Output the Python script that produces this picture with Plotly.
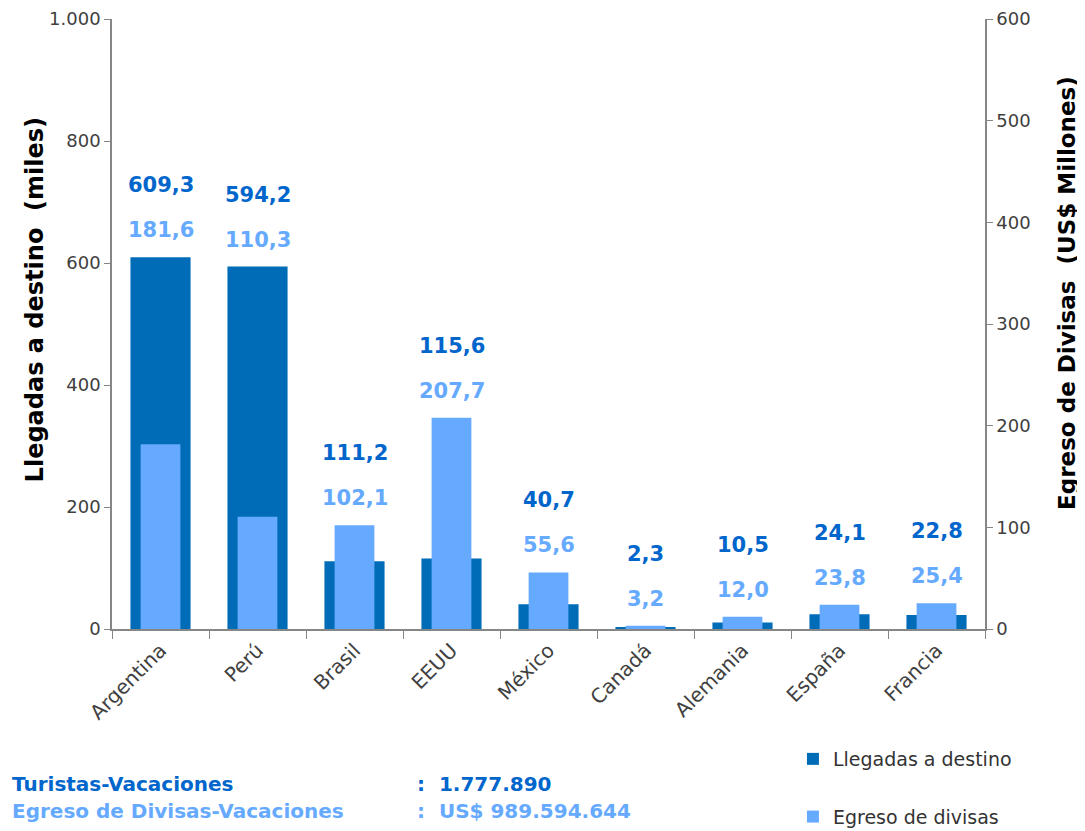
import plotly.graph_objects as go

paises = ["Argentina", "Perú", "Brasil", "EEUU", "México", "Canadá", "Alemania", "España", "Francia"]
llegadas = [609.3, 594.2, 111.2, 115.6, 40.7, 2.3, 10.5, 24.1, 22.8]
egreso = [181.6, 110.3, 102.1, 207.7, 55.6, 3.2, 12.0, 23.8, 25.4]

OSCURO = "#006CB8"
CLARO = "#66AAFF"
FUENTE = "DejaVu Sans"
NB = "\u00a0"

def fmt(v):
    return f"{v:.1f}".replace(".", ",")

fig = go.Figure()
fig.add_trace(go.Bar(
    x=paises, y=llegadas, name="Llegadas a destino",
    marker=dict(color=OSCURO, line=dict(width=0)), width=0.62, yaxis="y",
    legendgroup="a",
))
fig.add_trace(go.Bar(
    x=paises, y=egreso, name="Egreso de divisas",
    marker=dict(color=CLARO, line=dict(width=0)), width=0.41, yaxis="y2",
    legendgroup="b",
))

# etiquetas de datos encima de la barra mas alta
for p, a, b in zip(paises, llegadas, egreso):
    tope = max(a, b * 1000 / 600)
    fig.add_annotation(x=p, y=tope, yref="y", text=f"<b>{fmt(a)}</b>", showarrow=False,
                       yshift=72, font=dict(family=FUENTE, size=21, color="#0066CC"))
    fig.add_annotation(x=p, y=tope, yref="y", text=f"<b>{fmt(b)}</b>", showarrow=False,
                       yshift=27, font=dict(family=FUENTE, size=21, color=CLARO))

# resumen bajo el grafico
resumen = [
    ("Turistas-Vacaciones", ":  1.777.890", "#0066CC", -0.254),
    ("Egreso de Divisas-Vacaciones", ":  US$ 989.594.644", CLARO, -0.298),
]
for etiqueta, valor, color, yy in resumen:
    fig.add_annotation(xref="paper", yref="paper", x=-0.117, y=yy, xanchor="left",
                       yanchor="middle", text=f"<b>{etiqueta}</b>", showarrow=False,
                       font=dict(family=FUENTE, size=20, color=color))
    fig.add_annotation(xref="paper", yref="paper", x=0.347, y=yy, xanchor="left",
                       yanchor="middle", text=f"<b>{valor}</b>", showarrow=False,
                       font=dict(family=FUENTE, size=20, color=color))

# titulos de los ejes como anotaciones giradas
fig.add_annotation(xref="paper", yref="paper", x=-0.088, y=0.539, textangle=-90,
                   xanchor="center", yanchor="middle", showarrow=False,
                   text=f"<b>Llegadas a destino{NB}{NB}(miles)</b>",
                   font=dict(family=FUENTE, size=24, color="black"))
fig.add_annotation(xref="paper", yref="paper", x=1.094, y=0.551, textangle=-90,
                   xanchor="center", yanchor="middle", showarrow=False,
                   text=f"<b>Egreso de Divisas{NB}{NB}(US$ Millones)</b>",
                   font=dict(family=FUENTE, size=23, color="black"))

eje = dict(showline=True, linecolor="#868686", linewidth=1.5, ticks="outside",
           tickcolor="#868686", ticklen=6, showgrid=False, zeroline=False,
           automargin=False, tickfont=dict(family=FUENTE, size=18, color="#404040"))

fig.update_layout(
    width=1085, height=831,
    margin=dict(l=104, r=108, t=11, b=210, autoexpand=False),
    plot_bgcolor="white", paper_bgcolor="white",
    barmode="overlay", separators=",.",
    font=dict(family=FUENTE),
    xaxis=dict(eje, tickangle=-45, tickson="boundaries", ticklen=8,
               tickfont=dict(family=FUENTE, size=20, color="#404040")),
    yaxis=dict(eje, range=[0, 1000], dtick=200, tickformat=","),
    yaxis2=dict(eje, range=[0, 600], dtick=100, overlaying="y", side="right"),
    legend=dict(x=0.78, y=-0.182, xanchor="left", yanchor="top",
                tracegroupgap=30, font=dict(family=FUENTE, size=19, color="#333333")),
)

fig.write_html("out.html")
